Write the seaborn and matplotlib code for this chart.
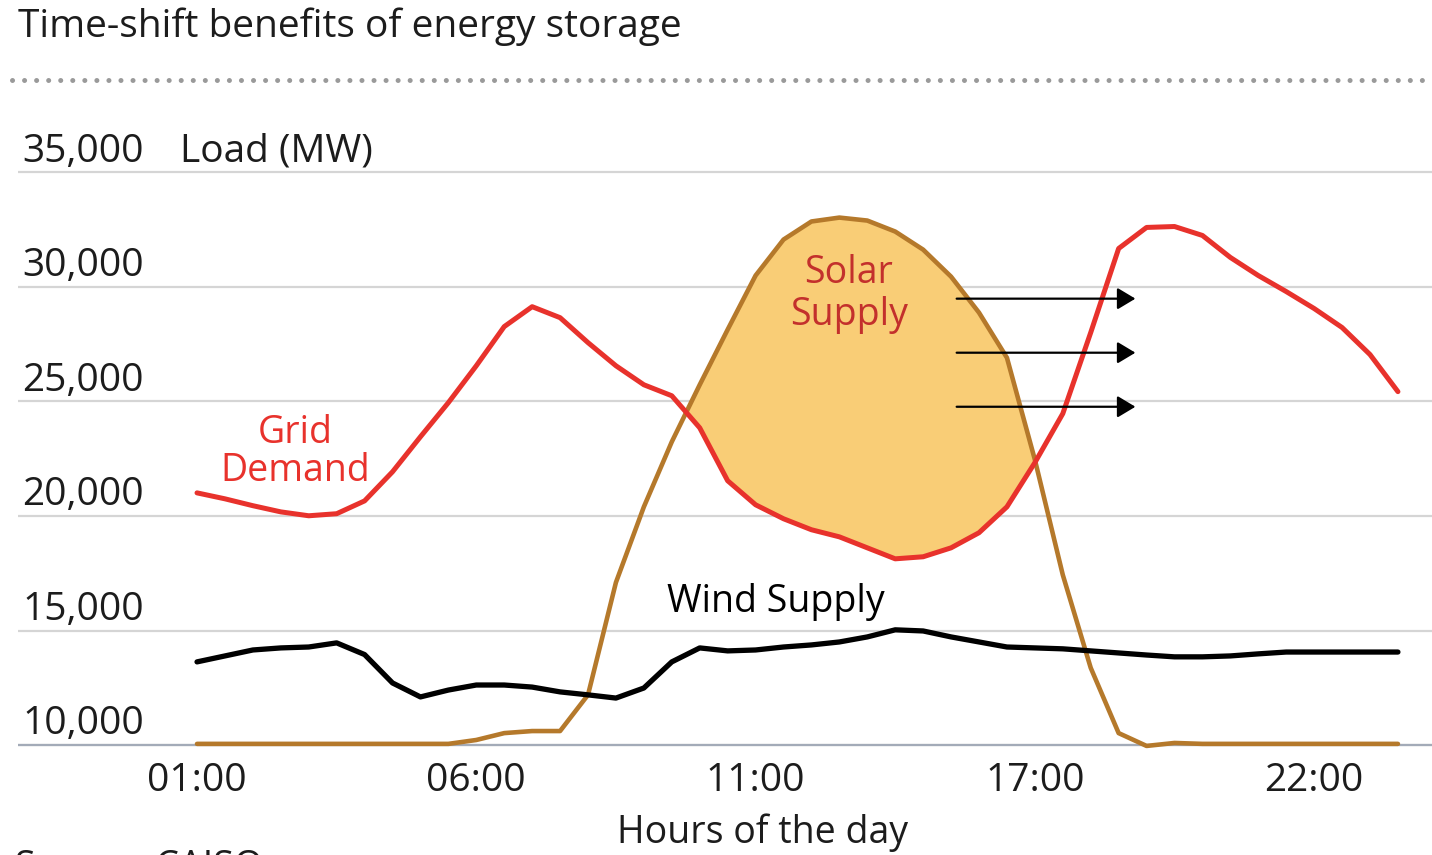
import numpy as np
import pandas as pd
import matplotlib
matplotlib.use("Agg")
import matplotlib.pyplot as plt
import seaborn as sns
from matplotlib.lines import Line2D

# Half-hour sampling slots along the day axis
slots = np.arange(44) * 0.5

grid_demand = [21010, 20750, 20450, 20180, 20010, 20100, 20660, 21930, 23460, 24950,
               26560, 28270, 29140, 28660, 27570, 26560, 25730, 25250, 23850, 21540,
               20490, 19880, 19400, 19090, 18610, 18130, 18220, 18610, 19270, 20400,
               22330, 24470, 28010, 31680, 32600, 32640, 32250, 31290, 30500, 29800,
               29060, 28230, 27050, 25430]

solar_supply = [10050, 10050, 10050, 10050, 10050, 10050, 10050, 10050, 10050, 10050,
                10220, 10520, 10610, 10610, 12190, 17100, 20400, 23240, 25730, 28140,
                30500, 32070, 32860, 33030, 32900, 32420, 31630, 30450, 28880, 26910,
                22460, 17430, 13370, 10520, 9960, 10090, 10050, 10050, 10050, 10050,
                10050, 10050, 10050, 10050]

wind_supply = [13630, 13890, 14150, 14240, 14280, 14460, 13950, 12710, 12100, 12400,
               12620, 12620, 12530, 12320, 12190, 12050, 12490, 13630, 14240, 14110,
               14150, 14280, 14370, 14500, 14720, 15030, 14980, 14720, 14500, 14280,
               14240, 14200, 14110, 14020, 13930, 13850, 13850, 13890, 13980, 14060,
               14060, 14060, 14060, 14060]

tick_slots = [0, 5, 10, 15, 20]
tick_labels = ["01:00", "06:00", "11:00", "17:00", "22:00"]
y_levels = [10000, 15000, 20000, 25000, 30000, 35000]

# Storage time-shift arrows (levels in MW, start/end along the day axis)
arrow_levels = [29490, 27130, 24770]
arrow_start, arrow_end = 13.6, 16.8

RED = "#e8322c"
BROWN = "#b5792b"
FILL = "#f9cd76"
TEXT = "#1c1c1c"

sns.set_theme(style="white")
plt.rcParams["font.family"] = ["Open Sans", "DejaVu Sans"]

W, H = 1432, 855
fig = plt.figure(figsize=(W / 100, H / 100), dpi=100)
ax = fig.add_axes([18 / W, 1 - 749.6 / H, 1414 / W, 584 / H])
ax.set_xlim(-3.205, 22.11)
ax.set_ylim(9800, 35300)

df = pd.DataFrame({"slot": slots,
                   "Grid Demand": grid_demand,
                   "Solar Supply": solar_supply,
                   "Wind Supply": wind_supply})

# Solar surplus above demand
gd = np.asarray(grid_demand, dtype=float)
ss = np.asarray(solar_supply, dtype=float)
ax.fill_between(slots, gd, ss, where=ss > gd, interpolate=True,
                color=FILL, lw=0, zorder=1)

sns.lineplot(data=df, x="slot", y="Solar Supply", color=BROWN, lw=3.3,
             solid_capstyle="round", ax=ax, zorder=3)
sns.lineplot(data=df, x="slot", y="Grid Demand", color=RED, lw=3.6,
             solid_capstyle="round", ax=ax, zorder=4)
sns.lineplot(data=df, x="slot", y="Wind Supply", color="black", lw=3.8,
             solid_capstyle="round", ax=ax, zorder=5)

# Horizontal gridlines with labels sitting on them
ax.set_yticks(y_levels)
ax.yaxis.grid(True, color="#d5d5d5", lw=1.6)
ax.set_axisbelow(True)
ax.axhline(10000, color="#a3abb8", lw=1.6, zorder=0.9)
ax.tick_params(axis="y", length=0, labelleft=False)
ytrans = ax.get_yaxis_transform()
for val in y_levels:
    ax.text(4 / 1414, val + 470, f"{val:,}", transform=ytrans, fontsize=28,
            color=TEXT, ha="left", va="baseline")
ax.text(162 / 1414, 35000 + 470, "Load (MW)", transform=ytrans, fontsize=28,
        color=TEXT, ha="left", va="baseline")

ax.set_xticks(tick_slots, tick_labels)
ax.tick_params(axis="x", length=0, pad=9, labelsize=28, labelcolor=TEXT)
ax.set_xlabel("")
ax.set_ylabel("")
sns.despine(ax=ax, left=True, bottom=True)

# Series labels
ax.text(1.75, 23190, "Grid", color=RED, fontsize=27, ha="center", va="baseline")
ax.text(1.75, 21530, "Demand", color=RED, fontsize=27, ha="center", va="baseline")
ax.text(11.67, 30175, "Solar", color="#c3302c", fontsize=27, ha="center", va="baseline", zorder=6)
ax.text(11.67, 28340, "Supply", color="#c3302c", fontsize=27, ha="center", va="baseline", zorder=6)
ax.text(10.37, 15810, "Wind Supply", color="black", fontsize=27, ha="center", va="baseline")

for lvl in arrow_levels:
    ax.annotate("", xy=(arrow_end, lvl), xytext=(arrow_start, lvl),
                arrowprops=dict(arrowstyle="-|>,head_length=0.55,head_width=0.33",
                                color="black", lw=1.6, shrinkA=0, shrinkB=0,
                                mutation_scale=20),
                zorder=7)

# Header, divider, axis caption and source
fig.text(18 / W, 1 - 37 / H, "Time-shift benefits of energy storage",
         fontsize=28, color=TEXT, ha="left", va="baseline")
fig.add_artist(Line2D([12 / W, 1.0], [1 - 80 / H] * 2, transform=fig.transFigure,
                      color="#9a9a9a", lw=3.6, linestyle=(0, (0.01, 2.4)),
                      dash_capstyle="round"))
fig.text(763 / W, 1 - 843 / H, "Hours of the day", fontsize=27, color=TEXT,
         ha="center", va="baseline")
fig.text(15 / W, 1 - 878 / H, "Source: CAISO", fontsize=27, color=TEXT,
         ha="left", va="baseline")

fig.savefig("out.png", dpi=100)
